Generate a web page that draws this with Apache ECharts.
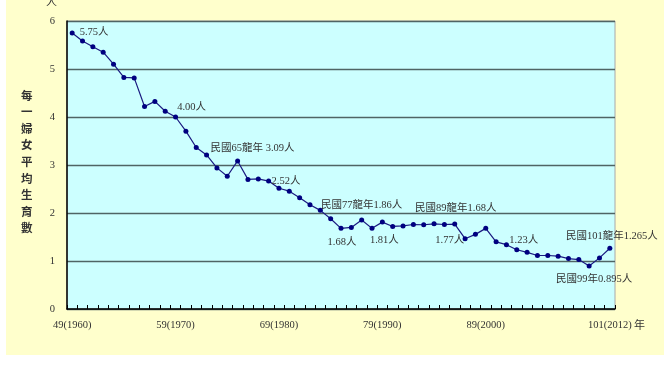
<!DOCTYPE html>
<html><head><meta charset="utf-8">
<script src="https://cdn.jsdelivr.net/npm/echarts@6/dist/echarts.min.js"></script>
<style>html,body{margin:0;padding:0;background:#fff}#c{width:672px;height:372px}</style>
</head><body><div id="c"></div>
<script>
var years = [];
for (var yr = 1960; yr <= 2012; yr++) years.push(yr);
var categories = years.map(function (y) { return (y - 1911) + '(' + y + ')'; });
var tfr = [5.75, 5.585, 5.465, 5.35, 5.1, 4.825, 4.815, 4.22, 4.325, 4.12,
  4.0, 3.705, 3.365, 3.21, 2.94, 2.765, 3.085, 2.7, 2.71, 2.665,
  2.515, 2.455, 2.32, 2.17, 2.055, 1.88, 1.68, 1.7, 1.855, 1.68,
  1.81, 1.72, 1.73, 1.76, 1.755, 1.775, 1.76, 1.77, 1.465, 1.555,
  1.68, 1.4, 1.34, 1.235, 1.18, 1.115, 1.115, 1.1, 1.05, 1.03,
  0.895, 1.065, 1.265];
var labelIdx = [0, 10, 20, 30, 40, 52];
var yTicks = [0, 1, 2, 3, 4, 5, 6];
var annotations = [
  {year: 1960, text: '5.75人'},
  {year: 1970, text: '4.00人'},
  {year: 1976, text: '民國65龍年 3.09人'},
  {year: 1980, text: '2.52人'},
  {year: 1988, text: '民國77龍年1.86人'},
  {year: 1986, text: '1.68人'},
  {year: 1990, text: '1.81人'},
  {year: 1997, text: '1.77人'},
  {year: 2000, text: '民國89龍年1.68人'},
  {year: 2003, text: '1.23人'},
  {year: 2010, text: '民國99年0.895人'},
  {year: 2012, text: '民國101龍年1.265人'}
];
// label placement (style only)
var place = {
  1960: ['top', [22, 12]],
  1970: ['top', [16, 3]],
  1976: ['top', [15, 0]],
  1980: ['top', [7, 6]],
  1988: ['top', [0, -2]],
  1986: ['bottom', [1, 1]],
  1990: ['bottom', [2, 5]],
  1997: ['bottom', [-5, 3]],
  2000: ['top', [-30, -7]],
  2003: ['top', [7, 3]],
  2010: ['bottom', [5, 0]],
  2012: ['top', [2, 1]]
};
var labelFont = '"Liberation Serif","Noto Sans CJK TC",serif';
var annMap = {};
annotations.forEach(function (a) { annMap[a.year] = a.text; });
var seriesData = tfr.map(function (v, i) {
  var y = years[i];
  if (annMap[y] === undefined) return v;
  var p = place[y];
  return {
    value: v,
    label: {
      show: true, position: p[0], offset: p[1], distance: 5,
      formatter: annMap[y], color: '#333', fontSize: 10.5, fontFamily: labelFont
    }
  };
});

var chart = echarts.init(document.getElementById('c'), null, {renderer: 'canvas'});
chart.setOption({
  animation: false,
  backgroundColor: '#fff',
  graphic: [
    {type: 'rect', shape: {x: 6, y: 0, width: 658, height: 355}, style: {fill: '#FFFFCC'}, z: -10},
    {type: 'text', left: 21, top: 87, style: {
      text: '每一婦女平均生育數'.split('').join('\n'), fill: '#333', fontSize: 11.5, fontWeight: 'bold',
      lineHeight: 16.6, fontFamily: '"Noto Sans CJK TC",sans-serif', align: 'center'}},
    {type: 'text', left: 46, top: -4, style: {text: '人', fill: '#333', fontSize: 11,
      fontFamily: '"Noto Sans CJK TC",sans-serif'}},
    {type: 'text', left: 634, top: 319, style: {text: '年', fill: '#333', fontSize: 11,
      fontFamily: '"Noto Sans CJK TC",sans-serif'}}
  ],
  grid: {left: 67, right: 57, top: 21, bottom: 63, show: true, backgroundColor: '#CCFFFF',
    borderColor: '#a8a8a8', borderWidth: 1},
  xAxis: {
    type: 'category', data: categories, boundaryGap: true,
    axisLine: {lineStyle: {color: '#000', width: 1.5}},
    axisTick: {show: true, inside: true, length: 4, interval: 0, lineStyle: {color: '#000', width: 1}},
    axisLabel: {
      interval: function (i) { return labelIdx.indexOf(i) >= 0; },
      color: '#333', fontSize: 10.5, fontFamily: labelFont, margin: 11
    },
    splitLine: {show: false}
  },
  yAxis: {
    type: 'value', min: yTicks[0], max: yTicks[yTicks.length - 1], interval: 1,
    axisLine: {show: true, lineStyle: {color: '#000', width: 1.5}},
    axisTick: {show: false},
    axisLabel: {color: '#333', fontSize: 10.5, fontFamily: labelFont, margin: 12},
    splitLine: {show: true, lineStyle: {color: '#4f6464', width: 1.3}}
  },
  series: [{
    type: 'line', data: seriesData,
    symbol: 'circle', symbolSize: 5,
    lineStyle: {color: '#1a1a80', width: 1.2},
    itemStyle: {color: '#000080'},
    label: {show: false}
  }]
});
</script></body></html>
